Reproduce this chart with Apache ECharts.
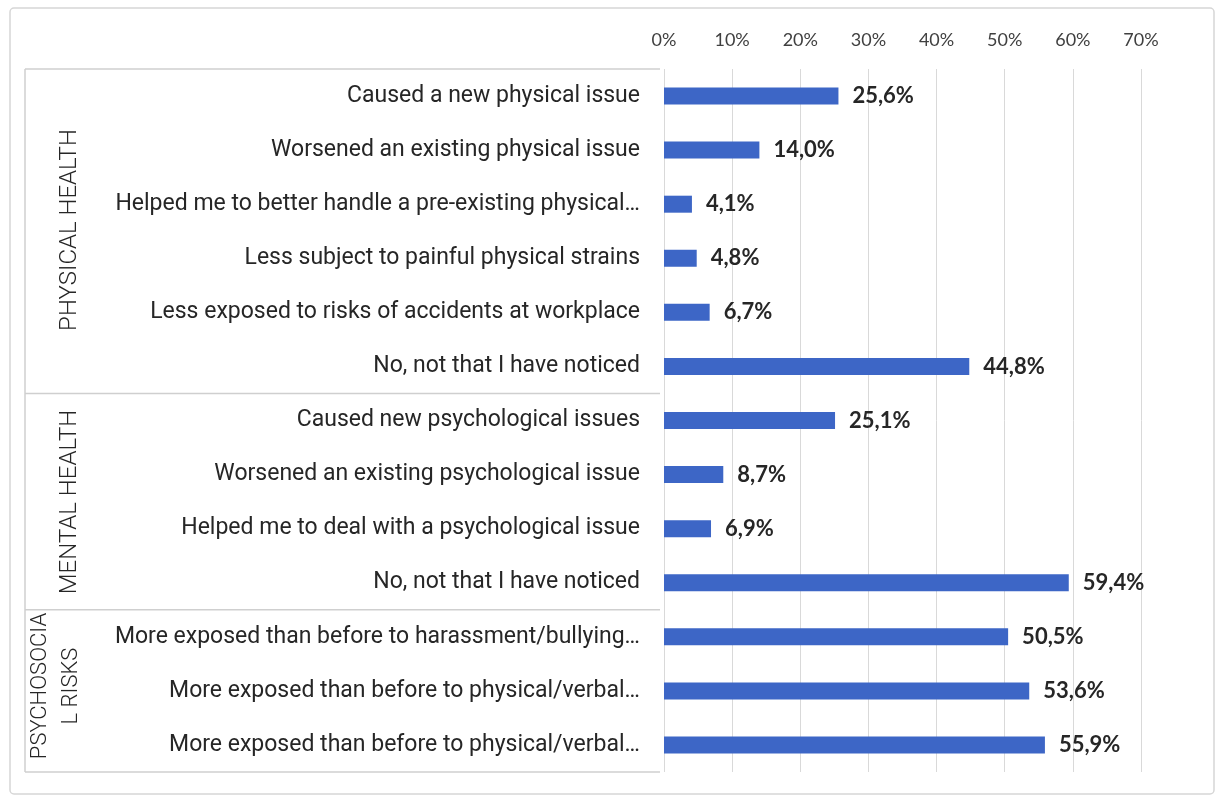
<!DOCTYPE html>
<html><head><meta charset="utf-8">
<script src="https://cdn.jsdelivr.net/npm/echarts@6/dist/echarts.min.js"></script>
<style>html,body{margin:0;padding:0;background:#fff}#c{width:1220px;height:799px}</style>
</head><body><div id="c"></div>
<script>
const categories = [
  "Caused a new physical issue",
  "Worsened an existing physical issue",
  "Helped me to better handle a pre-existing physical…",
  "Less subject to painful physical strains",
  "Less exposed to risks of accidents at workplace",
  "No, not that I have noticed",
  "Caused new psychological issues",
  "Worsened an existing psychological issue",
  "Helped me to deal with a psychological issue",
  "No, not that I have noticed ",
  "More exposed than before to harassment/bullying…",
  "More exposed than before to physical/verbal…",
  "More exposed than before to physical/verbal… "
];
const values = [25.6, 14.0, 4.1, 4.8, 6.7, 44.8, 25.1, 8.7, 6.9, 59.4, 50.5, 53.6, 55.9];
const groups = ["PHYSICAL HEALTH", "MENTAL HEALTH", "PSYCHOSOCIA\nL RISKS"];
const axisTicks = [0, 10, 20, 30, 40, 50, 60, 70];

const chart = echarts.init(document.getElementById('c'));
const gridTop = 69, gridBottom = 772, gridLeft = 664, gridRight = 1141;
const band = (gridBottom - gridTop) / categories.length;
const lineY = i => gridTop + band * i;
const lineStyle = {stroke: '#cfcfcf', lineWidth: 1.5};
chart.setOption({
  animation: false,
  backgroundColor: '#fff',
  grid: {left: gridLeft, right: 1220 - gridRight, top: gridTop, bottom: 799 - gridBottom, containLabel: false},
  xAxis: {
    type: 'value', position: 'top', min: axisTicks[0], max: axisTicks[axisTicks.length - 1], interval: 10,
    axisLabel: {formatter: '{value}%', color: '#404040', fontSize: 18, fontFamily: 'Lato', margin: 20},
    axisLine: {show: false}, axisTick: {show: false},
    splitLine: {lineStyle: {color: '#d9d9d9', width: 1}}
  },
  yAxis: {
    type: 'category', data: categories, inverse: true,
    axisLine: {show: false}, axisTick: {show: false},
    axisLabel: {color: '#262626', fontSize: 23, fontFamily: 'Roboto', margin: 24,
      formatter: v => v.trim()}
  },
  series: [{
    type: 'bar', data: values, barWidth: 17,
    itemStyle: {color: '#3D66C6'},
    label: {show: true, position: 'right', distance: 14, color: '#262626', fontWeight: 'bold',
      fontSize: 22, fontFamily: 'Lato',
      formatter: p => p.value.toFixed(1).replace('.', ',') + '%'}
  }],
  graphic: [
    {type: 'rect', shape: {x: 10, y: 8, width: 1204, height: 786, r: 4}, style: {fill: 'none', stroke: '#d6d6d6', lineWidth: 1.5}, z: -1},
    {type: 'line', shape: {x1: 25, y1: lineY(0), x2: 660, y2: lineY(0)}, style: lineStyle},
    {type: 'line', shape: {x1: 25, y1: lineY(6), x2: 660, y2: lineY(6)}, style: lineStyle},
    {type: 'line', shape: {x1: 25, y1: lineY(10), x2: 660, y2: lineY(10)}, style: lineStyle},
    {type: 'line', shape: {x1: 25, y1: lineY(13), x2: 660, y2: lineY(13)}, style: lineStyle},
    {type: 'line', shape: {x1: 25, y1: lineY(0), x2: 25, y2: lineY(13)}, style: lineStyle},
    {type: 'text', x: 70, y: 230, rotation: Math.PI / 2,
      style: {text: groups[0], fill: '#262626', fontSize: 24, fontFamily: 'Roboto', fontWeight: 300, align: 'center', verticalAlign: 'middle'}},
    {type: 'text', x: 70, y: 502, rotation: Math.PI / 2,
      style: {text: groups[1], fill: '#262626', fontSize: 24, fontFamily: 'Roboto', fontWeight: 300, align: 'center', verticalAlign: 'middle'}},
    {type: 'text', x: 56, y: 686, rotation: Math.PI / 2,
      style: {text: groups[2], fill: '#262626', fontSize: 22, fontFamily: 'Roboto', fontWeight: 300, align: 'center', verticalAlign: 'middle', lineHeight: 31}}
  ]
});
</script></body></html>
